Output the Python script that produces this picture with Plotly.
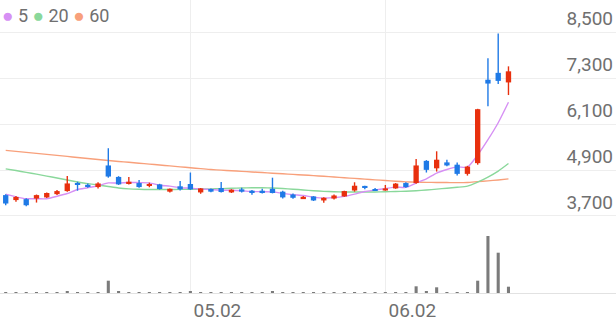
import plotly.graph_objects as go

idx = list(range(50))
opens = [4245, 4115, 4140, 4155, 4185, 4270, 4350, 4550, 4515, 4455,
         5020, 4720, 4535, 4560, 4485, 4525, 4335, 4475, 4535, 4315,
         4405, 4430, 4315, 4395, 4360, 4360, 4410, 4335, 4260, 4140,
         4210, 4105, 4155, 4210, 4365, 4485, 4405, 4365, 4420, 4560,
         4560, 5140, 4945, 5100, 5040, 4800, 5080, 7260, 7440, 7190]
highs = [4270, 4220, 4160, 4260, 4310, 4380, 4745, 4595, 4550, 4580,
         5470, 4740, 4720, 4640, 4570, 4540, 4420, 4615, 4835, 4430,
         4420, 4590, 4400, 4440, 4380, 4410, 4700, 4360, 4290, 4220,
         4220, 4190, 4260, 4360, 4580, 4490, 4430, 4510, 4560, 4580,
         5190, 5160, 5390, 5170, 5100, 5010, 6500, 7820, 8470, 7610]
lows = [3980, 4070, 3955, 4050, 4170, 4250, 4330, 4360, 4440, 4420,
        4700, 4510, 4525, 4440, 4450, 4390, 4310, 4365, 4380, 4280,
        4320, 4315, 4300, 4315, 4255, 4290, 4290, 4155, 4150, 4140,
        4090, 4045, 4130, 4200, 4335, 4395, 4350, 4360, 4410, 4440,
        4540, 4835, 4860, 5000, 4755, 4755, 5040, 6570, 7150, 6860]
closes = [4025, 4195, 3980, 4245, 4300, 4350, 4550, 4510, 4475, 4550,
          4730, 4525, 4595, 4455, 4525, 4405, 4410, 4395, 4395, 4420,
          4335, 4325, 4385, 4335, 4315, 4315, 4300, 4185, 4175, 4200,
          4105, 4175, 4235, 4350, 4490, 4445, 4365, 4420, 4545, 4455,
          5020, 4905, 5170, 5020, 4800, 4990, 6490, 7160, 7230, 7480]
volumes = [80, 60, 70, 60, 90, 70, 170, 80, 60, 90,
           1230, 120, 70, 60, 80, 60, 70, 60, 170, 60,
           70, 80, 60, 60, 70, 60, 170, 60, 70, 60,
           80, 60, 60, 70, 80, 60, 60, 70, 60, 80,
           670, 130, 570, 100, 100, 100, 1230, 5700, 4030, 630]
ma5 = [4270, 4200, 4150, 4150, 4149, 4214, 4286, 4392, 4437, 4488,
       4563, 4558, 4575, 4572, 4566, 4502, 4479, 4438, 4426, 4405,
       4391, 4373, 4372, 4359, 4338, 4334, 4329, 4289, 4257, 4234,
       4192, 4167, 4178, 4213, 4271, 4340, 4378, 4415, 4454, 4447,
       4561, 4669, 4819, 4913, 4982, 4977, 5293, 5692, 6135, 6671]
ma20 = [4931, 4887, 4839, 4792, 4742, 4692, 4641, 4589, 4544, 4510,
        4470, 4430, 4407, 4396, 4391, 4391, 4391, 4394, 4396, 4401,
        4407, 4415, 4423, 4430, 4436, 4436, 4430, 4417, 4399, 4380,
        4359, 4343, 4333, 4328, 4325, 4325, 4328, 4333, 4338, 4346,
        4359, 4378, 4401, 4425, 4449, 4478, 4583, 4715, 4873, 5071]
ma60 = [5414, 5388, 5361, 5335, 5309, 5282, 5256, 5229, 5203, 5177,
        5150, 5124, 5103, 5079, 5055, 5032, 5008, 4984, 4960, 4937,
        4913, 4897, 4881, 4866, 4850, 4834, 4818, 4802, 4786, 4771,
        4755, 4736, 4718, 4699, 4681, 4663, 4644, 4626, 4607, 4591,
        4583, 4578, 4575, 4573, 4570, 4575, 4597, 4618, 4641, 4668]
price_ticks = [3700, 4900, 6100, 7300, 8500]
date_tick_pos = [18, 37]
date_tick_labels = ["05.02", "06.02"]
ma_names = ["5", "20", "60"]

UP = "#e8300e"
DOWN = "#1f7ae6"
MA_COLORS = ["#d690f4", "#8ad89b", "#f8a07b"]
VOL_COLOR = "#7b7b7b"
GRID = "#eeeeee"
TXT = "#707070"
FONT = "Roboto"

colors = [UP if c >= o else DOWN for o, c in zip(opens, closes)]

fig = go.Figure()

# moving averages (base price axis, drawn beneath the candles)
for vals, col, nm in zip([ma60, ma20, ma5], MA_COLORS[::-1], ma_names[::-1]):
    fig.add_trace(go.Scatter(x=idx, y=vals, mode="lines", name=nm,
                             line=dict(color=col, width=1.4, shape="spline", smoothing=0.6),
                             xaxis="x", yaxis="y", showlegend=False, hoverinfo="skip"))

# wicks
for col in (UP, DOWN):
    wx, wy = [], []
    for i, o, h, l, c in zip(idx, opens, highs, lows, closes):
        if (UP if c >= o else DOWN) == col:
            wx += [i, i, None]
            wy += [l, h, None]
    fig.add_trace(go.Scatter(x=wx, y=wy, mode="lines", line=dict(color=col, width=1.4),
                             xaxis="x", yaxis="y3", showlegend=False, hoverinfo="skip"))

# bodies
body_base = [min(o, c) for o, c in zip(opens, closes)]
body_h = [max(abs(c - o), 22) for o, c in zip(opens, closes)]
fig.add_trace(go.Bar(x=idx, y=body_h, base=body_base, width=0.52,
                     marker=dict(color=colors, line=dict(width=0)),
                     xaxis="x", yaxis="y3", showlegend=False, hoverinfo="skip"))

# volume
fig.add_trace(go.Bar(x=idx, y=volumes, width=0.3, marker=dict(color=VOL_COLOR, line=dict(width=0)),
                     xaxis="x2", yaxis="y2", showlegend=False, hoverinfo="skip"))

H = 321.0
price_dom = [1 - 222 / H, 1]
vol_dom = [1 - 293 / H, 1 - 222 / H]
xr = [-0.556, 59.48]
pr = [3542, 9344]

legend_txt = "".join(
    f'<span style="color:{c};font-size:19px">●</span> {n} ' for c, n in zip(MA_COLORS, ma_names)
)

fig.update_layout(
    width=616, height=321,
    margin=dict(l=0, r=0, t=0, b=0),
    paper_bgcolor="white", plot_bgcolor="white",
    barmode="overlay", showlegend=False,
    font=dict(family=FONT, color=TXT, size=18),
    xaxis=dict(domain=[0, 1], anchor="y", range=xr, autorange=False, tickvals=date_tick_pos,
               showticklabels=False, showgrid=True, gridcolor=GRID, gridwidth=1,
               zeroline=False, showline=False, ticks=""),
    xaxis2=dict(domain=[0, 1], anchor="y2", range=xr, autorange=False, tickvals=date_tick_pos,
                ticktext=date_tick_labels, showgrid=True, gridcolor=GRID, gridwidth=1,
                zeroline=False, showline=True, linecolor="#e2e2e2", linewidth=1, ticks="",
                tickfont=dict(family=FONT, color=TXT, size=19), ticklabelshift=27),
    yaxis=dict(domain=price_dom, anchor="x", range=pr, autorange=False, side="right",
               tickvals=price_ticks, tickformat=",d", ticklabelposition="inside", ticklabelshift=-14,
               tickfont=dict(family=FONT, color=TXT, size=19),
               showgrid=True, gridcolor=GRID, gridwidth=1, zeroline=False, showline=False, ticks=""),
    yaxis3=dict(overlaying="y", anchor="x", range=pr, autorange=False, visible=False,
                showgrid=False, zeroline=False),
    yaxis2=dict(domain=vol_dom, anchor="x2", range=[0, 7100], autorange=False, showticklabels=False,
                showgrid=False, zeroline=False, showline=False, ticks=""),
    annotations=[dict(text=legend_txt, x=0, y=1 - 15 / H, xref="paper", yref="paper",
                      xanchor="left", yanchor="middle", showarrow=False,
                      font=dict(family=FONT, color=TXT, size=18))],
)

fig.write_html("out.html")
